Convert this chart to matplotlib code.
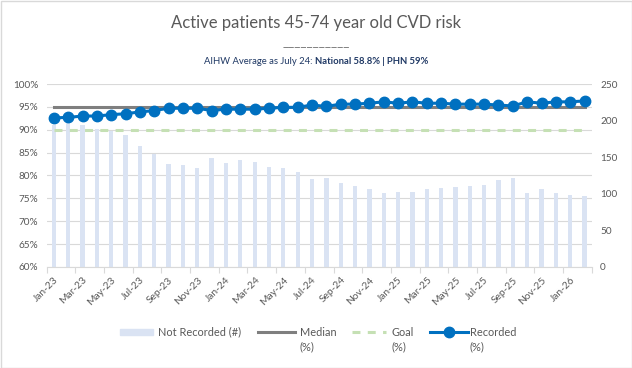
import numpy as np
import matplotlib
matplotlib.use("Agg")
import matplotlib.pyplot as plt
from matplotlib.ticker import PercentFormatter
from matplotlib.patches import Rectangle
from matplotlib.lines import Line2D

plt.rcParams['font.family'] = ['Lato', 'DejaVu Sans']

months = ['Jan-23', 'Feb-23', 'Mar-23', 'Apr-23', 'May-23', 'Jun-23', 'Jul-23', 'Aug-23',
          'Sep-23', 'Oct-23', 'Nov-23', 'Dec-23', 'Jan-24', 'Feb-24', 'Mar-24', 'Apr-24',
          'May-24', 'Jun-24', 'Jul-24', 'Aug-24', 'Sep-24', 'Oct-24', 'Nov-24', 'Dec-24',
          'Jan-25', 'Feb-25', 'Mar-25', 'Apr-25', 'May-25', 'Jun-25', 'Jul-25', 'Aug-25',
          'Sep-25', 'Oct-25', 'Nov-25', 'Dec-25', 'Jan-26', 'Feb-26']

not_recorded = [194, 197, 194, 189, 186, 180, 165, 155, 141, 139, 135, 149, 142, 146, 143,
                137, 135, 130, 120, 122, 115, 111, 106, 101, 102, 102, 106, 108, 109, 111,
                112, 119, 122, 101, 106, 101, 98, 97]

recorded = [0.926, 0.927, 0.930, 0.930, 0.933, 0.935, 0.939, 0.942, 0.947, 0.947, 0.947,
            0.942, 0.945, 0.945, 0.945, 0.947, 0.949, 0.949, 0.954, 0.951, 0.956, 0.956,
            0.958, 0.961, 0.958, 0.961, 0.958, 0.958, 0.956, 0.956, 0.956, 0.954, 0.952,
            0.961, 0.958, 0.961, 0.961, 0.963]

median = [0.95] * len(months)
goal = [0.90] * len(months)

TXT = '#595959'
BAR = '#DAE3F3'
BLUE = '#0070C0'
GREY = '#7F7F7F'
GREEN = '#C5E0B4'
GRID = '#D9D9D9'

fig = plt.figure(figsize=(6.32, 3.68), dpi=100)
W, H = 632, 368
x = np.arange(len(months))

# bars on the right axis (drawn first so they sit behind the lines)
axb = fig.add_axes([46.7 / W, (H - 267) / H, 545 / W, 183 / H])
axb.bar(x, not_recorded, width=0.3, color=BAR, zorder=2)
axb.set_ylim(0, 250)
axb.set_yticks(range(0, 251, 50))
axb.set_xlim(-0.5, len(months) - 0.5)
for p in np.arange(0.60, 1.001, 0.05):
    axb.axhline((p - 0.60) / 0.40 * 250, color=GRID, lw=0.8, zorder=0)

axl = axb.twinx()
axb.yaxis.tick_right()
axl.yaxis.tick_left()
axl.plot(x, median, color=GREY, lw=2.2, zorder=3)
axl.plot(x, goal, color=GREEN, lw=2.2, dashes=(2.6, 2.4), zorder=3)
axl.plot(x, recorded, color=BLUE, lw=2.2, marker='o', ms=7.5, zorder=4)
axl.set_ylim(0.60, 1.00)
axl.set_yticks(np.arange(0.60, 1.001, 0.05))
axl.yaxis.set_major_formatter(PercentFormatter(1.0, decimals=0))

for a in (axb, axl):
    for s in a.spines.values():
        s.set_visible(False)
    a.tick_params(axis='y', length=0, labelsize=7.2, labelcolor=TXT, pad=6)
axb.spines['bottom'].set_visible(True)
axb.spines['bottom'].set_color(GRID)

axb.set_xticks(np.arange(-0.5, len(months), 2))
axb.set_xticklabels([])
axb.set_xticks(x[::2], minor=True)
axb.set_xticklabels(months[::2], minor=True, rotation=45, ha='right',
                    rotation_mode='anchor', fontsize=7.4, color=TXT)
axb.tick_params(axis='x', which='major', length=4, color=GRID)
axb.tick_params(axis='x', which='minor', length=0, pad=6)

# titles
fig.text(0.5, 1 - 23 / H, 'Active patients 45-74 year old CVD risk', ha='center',
         va='center', fontsize=12, color=TXT)
fig.text(0.5, 1 - 42 / H, '___________', ha='center', va='center', fontsize=9.5,
         color='#7F7F7F')
part1 = 'AIHW Average as July 24: '
part2 = 'National 58.8% | PHN 59%'
t1 = fig.text(0, 1 - 62 / H, part1, ha='left', va='center', fontsize=6.8, color='#1F3864')
t2 = fig.text(0, 1 - 62 / H, part2, ha='left', va='center', fontsize=6.8, color='#1F3864',
              fontweight='bold')
fig.canvas.draw()
r = fig.canvas.get_renderer()
w1 = t1.get_window_extent(r).width
w2 = t2.get_window_extent(r).width
x0 = (W - w1 - w2) / 2
t1.set_x(x0 / W)
t2.set_x((x0 + w1) / W)

# legend drawn in pixel coordinates
lax = fig.add_axes([0, 0, 1, 1], zorder=-1)
lax.set_xlim(0, W)
lax.set_ylim(H, 0)
lax.axis('off')
ly, ly2 = 332, 347
fs = 7.9
lax.add_patch(Rectangle((120, ly - 3), 33, 6, color=BAR))
lax.text(158, ly, 'Not Recorded (#)', va='center', fontsize=fs, color=TXT)
lax.add_line(Line2D([258, 295], [ly, ly], color=GREY, lw=2.2))
lax.text(300, ly, 'Median', va='center', fontsize=fs, color=TXT)
lax.text(300, ly2, '(%)', va='center', fontsize=fs, color=TXT)
lax.add_line(Line2D([352, 386], [ly, ly], color=GREEN, lw=2.2, dashes=(2.6, 2.4)))
lax.text(391, ly, 'Goal', va='center', fontsize=fs, color=TXT)
lax.text(391, ly2, '(%)', va='center', fontsize=fs, color=TXT)
lax.add_line(Line2D([430, 468], [ly, ly], color=BLUE, lw=2.2))
lax.add_line(Line2D([449], [ly], color=BLUE, marker='o', ms=7.5))
lax.text(470, ly, 'Recorded', va='center', fontsize=fs, color=TXT)
lax.text(470, ly2, '(%)', va='center', fontsize=fs, color=TXT)
lax.add_patch(Rectangle((0.5, 0.5), W - 1, H - 1, fill=False, edgecolor=GRID, lw=1))

fig.savefig('out.png', dpi=100)
